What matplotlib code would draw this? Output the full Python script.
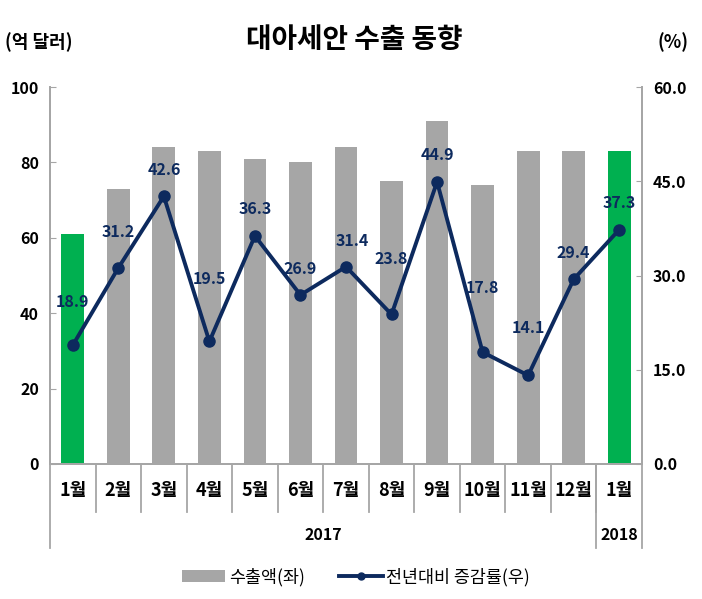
import matplotlib
matplotlib.use("Agg")
import matplotlib.pyplot as plt
import matplotlib.transforms as mtransforms
from matplotlib.lines import Line2D
from matplotlib.patches import Patch

plt.rcParams['font.family'] = ['Noto Sans CJK KR', 'DejaVu Sans']

# ---- data ----
months = ['1월', '2월', '3월', '4월', '5월', '6월', '7월', '8월', '9월', '10월', '11월', '12월', '1월']
years = ['2017', '2018']
year_counts = [12, 1]
exports = [61, 73, 84, 83, 81, 80, 84, 75, 91, 74, 83, 83, 83]
growth = [18.9, 31.2, 42.6, 19.5, 36.3, 26.9, 31.4, 23.8, 44.9, 17.8, 14.1, 29.4, 37.3]
highlight = [True, False, False, False, False, False, False, False, False, False, False, False, True]
left_ticks = [0, 20, 40, 60, 80, 100]
right_ticks = [0.0, 15.0, 30.0, 45.0, 60.0]

# ---- layout (label offsets in pixels) ----
label_dy = [43, 36, 26, 62, 27, 26, 26, 55, 27, 64, 47, 26, 27]
label_dx = [0, 0, 0, 0, 0, 0, 6, 0, 0, 0, 0, 0, 0]

GRAY = '#A6A6A6'
GREEN = '#00B050'
NAVY = '#0D2A5E'
SPINE = '#A6A6A6'

fig = plt.figure(figsize=(7.02, 5.99), dpi=100)
ax = fig.add_axes([50/702, 135/599, 592/702, 377/599])
ax2 = ax.twinx()

x = list(range(len(months)))
colors = [GREEN if h else GRAY for h in highlight]
ax.bar(x, exports, width=0.5, color=colors, zorder=2)
ax.set_xlim(-0.5, len(months) - 0.5)
ax.set_ylim(0, 100)
ax.set_yticks(left_ticks)
ax.set_yticklabels([f'{v:d}' for v in left_ticks], fontsize=11.5, fontweight='bold')
ax.set_xticks([])

ax2.set_ylim(0, 60)
ax2.set_yticks(right_ticks)
ax2.set_yticklabels([f'{v:.1f}' for v in right_ticks], fontsize=11.5, fontweight='bold')
ax2.plot(x, growth, color=NAVY, lw=2.8, marker='o', ms=8, zorder=3)
for i, v in enumerate(growth):
    ax2.annotate(f'{v:.1f}', (i, v), xytext=(label_dx[i], label_dy[i]),
                 textcoords='offset pixels', ha='center', va='center',
                 fontsize=11.5, fontweight='bold', color=NAVY)

for a in (ax, ax2):
    a.spines['top'].set_visible(False)
    for s in ('left', 'right', 'bottom'):
        a.spines[s].set_color(SPINE)
        a.spines[s].set_linewidth(1.3)
    a.tick_params(axis='y', direction='in', length=4, color=SPINE, pad=8)
ax.set_zorder(ax2.get_zorder() - 1)
ax2.patch.set_visible(False)

# category axis: month separators, group separators, labels
trans = mtransforms.blended_transform_factory(ax.transData, ax.transAxes)
for i in range(1, len(months)):
    ax.plot([i - 0.5, i - 0.5], [0, -0.127], transform=trans, color=SPINE, lw=1.3, clip_on=False)
bounds = [0]
for c in year_counts:
    bounds.append(bounds[-1] + c)
for b in bounds:
    ax.plot([b - 0.5, b - 0.5], [0, -0.223], transform=trans, color=SPINE, lw=1.3, clip_on=False)
for i, m in enumerate(months):
    ax.text(i, -0.069, m, transform=trans, ha='center', va='center', fontsize=13, fontweight='bold')
for k, yname in enumerate(years):
    center = (bounds[k] + bounds[k + 1] - 1) / 2
    ax.text(center, -0.188, yname, transform=trans, ha='center', va='center', fontsize=11.5, fontweight='bold')

# titles
fig.text(354/702, 1 - 40/599, '대아세안 수출 동향', ha='center', va='center', fontsize=20, fontweight='bold')
fig.text(5/702, 1 - 42/599, '(억 달러)', ha='left', va='center', fontsize=13, fontweight='bold')
fig.text(673/702, 1 - 42/599, '(%)', ha='center', va='center', fontsize=13, fontweight='bold')

# legend
handles = [Patch(facecolor=GRAY, edgecolor='none'),
           Line2D([0], [0], color=NAVY, lw=2.8, marker='o', ms=5)]
fig.legend(handles, ['수출액(좌)', '전년대비 증감률(우)'], loc='center',
           bbox_to_anchor=(356/702, 1 - 577/599), ncol=2, frameon=False,
           fontsize=12.5, handlelength=2.5, columnspacing=2.0, handletextpad=0.2)

fig.savefig('out.png', dpi=100)
